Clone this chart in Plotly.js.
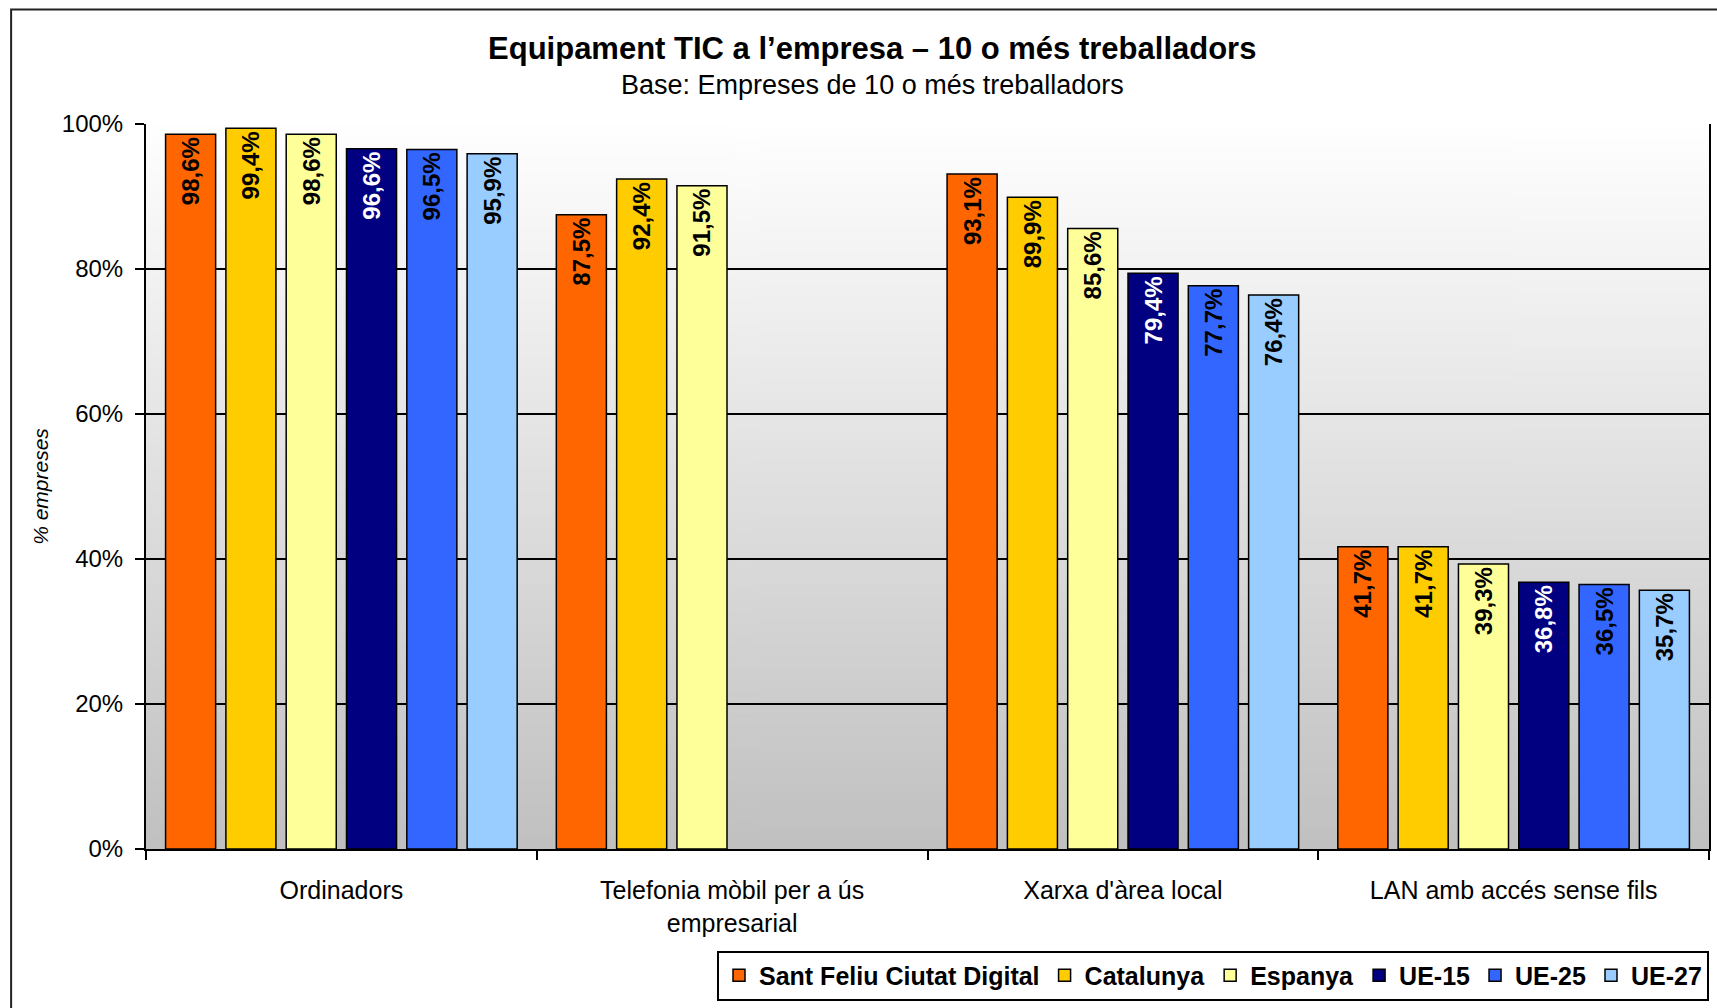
<!DOCTYPE html>
<html>
<head>
<meta charset="utf-8">
<script src="https://cdn.plot.ly/plotly-3.0.1.min.js"></script>
<style>
  html, body { margin: 0; padding: 0; background: #ffffff; }
  #chart { width: 1717px; height: 1008px; }
</style>
</head>
<body>
<div id="chart"></div>
<script>
// ---- data ----
const categories = [
  'Ordinadors',
  'Telefonia mòbil per a ús<br>empresarial',
  "Xarxa d'àrea local",
  'LAN amb accés sense fils'
];
const seriesNames = ['Sant Feliu Ciutat Digital', 'Catalunya', 'Espanya', 'UE-15', 'UE-25', 'UE-27'];
const santFeliu = [98.6, 87.5, 93.1, 41.7];
const catalunya = [99.4, 92.4, 89.9, 41.7];
const espanya   = [98.6, 91.5, 85.6, 39.3];
const ue15      = [96.6, null, 79.4, 36.8];
const ue25      = [96.5, null, 77.7, 36.5];
const ue27      = [95.9, null, 76.4, 35.7];
const yTickVals = [0, 20, 40, 60, 80, 100];
const yTickLabels = ['0%', '20%', '40%', '60%', '80%', '100%'];

// ---- styles ----
const seriesValues = [santFeliu, catalunya, espanya, ue15, ue25, ue27];
const barColors = ['#FF6600', '#FFCC00', '#FFFF99', '#000080', '#3366FF', '#99CCFF'];
const labelColors = ['#000000', '#000000', '#000000', '#ffffff', '#000000', '#000000'];
const FONT = '"Liberation Sans", Arial, Helvetica, sans-serif';

const traces = seriesNames.map((name, i) => ({
  type: 'bar',
  name: name,
  x: categories,
  y: seriesValues[i],
  marker: { color: barColors[i], line: { color: '#000000', width: 1.5 } },
  texttemplate: '%{y:.1f}%',
  textposition: 'inside',
  insidetextanchor: 'end',
  textangle: -90,
  constraintext: 'none',
  textfont: { family: FONT, size: 24, weight: 'bold', color: labelColors[i] },
  cliponaxis: false,
  hoverinfo: 'skip'
}));

// gradient plot background (white top -> silver bottom)
function gradientURL() {
  const c = document.createElement('canvas');
  c.width = 4; c.height = 512;
  const ctx = c.getContext('2d');
  const g = ctx.createLinearGradient(0, 0, 0, 512);
  g.addColorStop(0, '#ffffff');
  g.addColorStop(1, '#c0c0c0');
  ctx.fillStyle = g;
  ctx.fillRect(0, 0, 4, 512);
  return c.toDataURL('image/png');
}

const layout = {
  width: 1717,
  height: 1008,
  margin: { l: 146, r: 8, t: 124, b: 156, pad: 0 },
  paper_bgcolor: '#ffffff',
  plot_bgcolor: 'rgba(0,0,0,0)',
  separators: ',.',
  font: { family: FONT, color: '#000000' },
  barmode: 'group',
  bargap: 0.074,
  bargroupgap: 0.17,
  title: {
    text: 'Equipament TIC a l’empresa – 10 o més treballadors',
    font: { family: FONT, size: 31, weight: 'bold', color: '#000000' },
    xref: 'container', x: 0.508, xanchor: 'center',
    yref: 'container', y: 0.952, yanchor: 'middle'
  },
  annotations: [{
    text: 'Base: Empreses de 10 o més treballadors',
    xref: 'paper', yref: 'paper',
    x: (0.508 * 1717 - 146) / 1563, xanchor: 'center',
    y: 1.0536, yanchor: 'middle',
    showarrow: false,
    font: { family: FONT, size: 27, color: '#000000' }
  }],
  xaxis: {
    type: 'category',
    showline: true, linecolor: '#000000', linewidth: 2,
    ticks: 'outside', tickson: 'boundaries', ticklen: 9, tickwidth: 2, tickcolor: '#000000',
    ticklabelstandoff: 18,
    showgrid: false,
    tickfont: { family: FONT, size: 25, color: '#000000' },
    fixedrange: true
  },
  yaxis: {
    range: [0, 100],
    tickmode: 'array',
    tickvals: yTickVals,
    ticktext: yTickLabels,
    showline: true, linecolor: '#000000', linewidth: 2, mirror: true,
    ticks: 'outside', ticklen: 9, tickwidth: 2, tickcolor: '#000000',
    ticklabelstandoff: 7,
    showgrid: true, gridcolor: '#000000', gridwidth: 1.5,
    zeroline: false,
    tickfont: { family: FONT, size: 24, color: '#000000' },
    title: { text: '% empreses', font: { family: FONT, size: 21, style: 'italic', color: '#000000' }, standoff: 7 },
    fixedrange: true
  },
  legend: {
    orientation: 'h',
    xanchor: 'right', x: 1.0,
    yanchor: 'top', y: -0.14,
    bgcolor: '#ffffff', bordercolor: '#000000', borderwidth: 2,
    font: { family: FONT, size: 25, weight: 'bold', color: '#000000' },
    traceorder: 'normal'
  },
  images: [{
    source: gradientURL(),
    xref: 'paper', yref: 'paper', x: 0, y: 1, sizex: 1, sizey: 1,
    xanchor: 'left', yanchor: 'top', sizing: 'stretch', layer: 'below'
  }],
  shapes: [{
    type: 'rect', xref: 'paper', yref: 'paper',
    x0: -0.0863, x1: 1.05, y0: -0.35, y1: 1.158,
    line: { color: '#222222', width: 2 }, fillcolor: 'rgba(0,0,0,0)', layer: 'below'
  }],
  showlegend: true
};

Plotly.newPlot('chart', traces, layout, { staticPlot: true, displayModeBar: false });
</script>
</body>
</html>
